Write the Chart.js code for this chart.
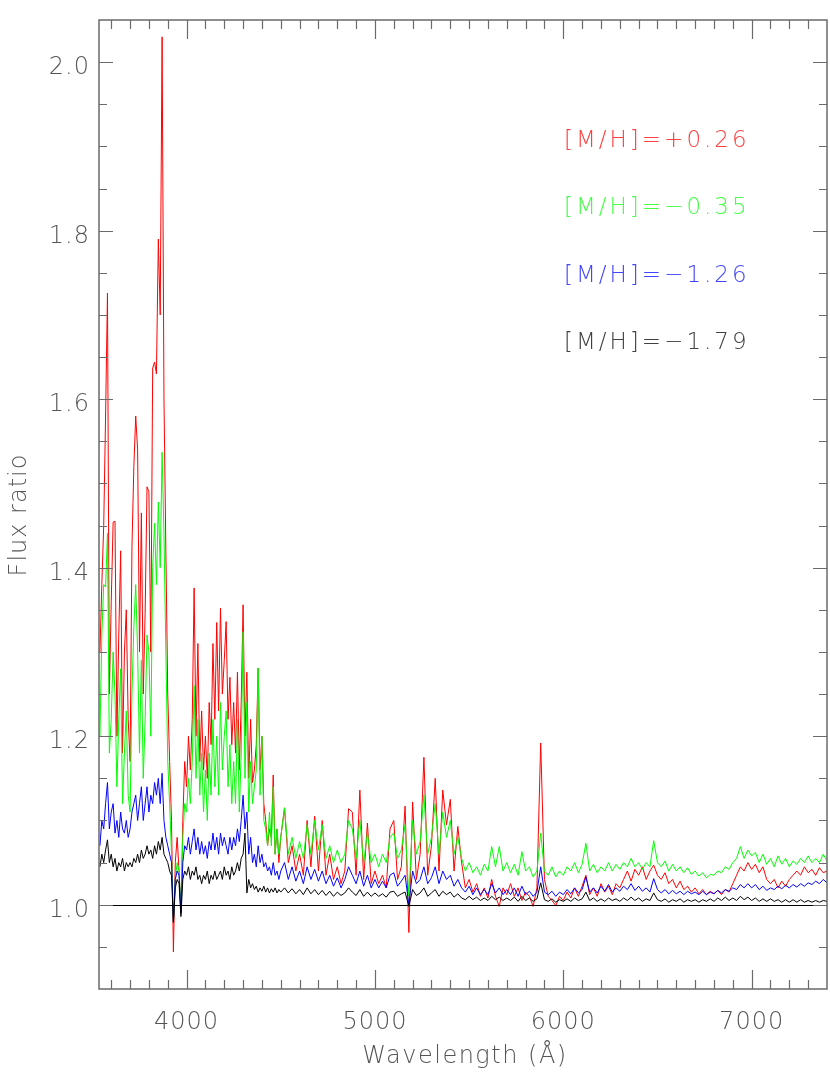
<!DOCTYPE html>
<html lang="en">
<head>
<meta charset="utf-8">
<title>Flux ratio vs wavelength</title>
<script src="https://cdn.jsdelivr.net/npm/chart.js@4"></script>
<style>
  html, body { margin: 0; padding: 0; background: #fff; }
  canvas { display: block; }
</style>
</head>
<body>
<canvas id="spectra" width="830" height="1076"></canvas>

<script>
// wavelength grid (Angstrom): 10 A steps in the blue, 20 A steps further red
const wavelength = [
  3540, 3550, 3560, 3570, 3580, 3590, 3600, 3610, 3620, 3630,
  3640, 3650, 3660, 3670, 3680, 3690, 3700, 3710, 3720, 3730,
  3740, 3750, 3760, 3770, 3780, 3790, 3800, 3810, 3820, 3830,
  3840, 3850, 3860, 3870, 3880, 3890, 3900, 3910, 3920, 3930,
  3940, 3950, 3960, 3970, 3980, 3990, 4000, 4010, 4020, 4030,
  4040, 4050, 4060, 4070, 4080, 4090, 4100, 4110, 4120, 4130,
  4140, 4150, 4160, 4170, 4180, 4190, 4200, 4210, 4220, 4230,
  4240, 4250, 4260, 4270, 4280, 4290, 4300, 4310, 4320, 4330,
  4340, 4350, 4360, 4370, 4380, 4390, 4400, 4410, 4420, 4430,
  4440, 4450, 4460, 4470, 4480, 4490, 4500,
  4520, 4540, 4560, 4580, 4600, 4620, 4640, 4660, 4680, 4700,
  4720, 4740, 4760, 4780, 4800, 4820, 4840, 4860, 4880, 4900,
  4920, 4940, 4960, 4980, 5000, 5020, 5040, 5060, 5080, 5100,
  5120, 5140, 5160, 5180, 5200, 5220, 5240, 5260, 5280, 5300,
  5320, 5340, 5360, 5380, 5400, 5420, 5440, 5460, 5480, 5500,
  5520, 5540, 5560, 5580, 5600, 5620, 5640, 5660, 5680, 5700,
  5720, 5740, 5760, 5780, 5800, 5820, 5840, 5860, 5880, 5900,
  5920, 5940, 5960, 5980, 6000, 6020, 6040, 6060, 6080, 6100,
  6120, 6140, 6160, 6180, 6200, 6220, 6240, 6260, 6280, 6300,
  6320, 6340, 6360, 6380, 6400, 6420, 6440, 6460, 6480, 6500,
  6520, 6540, 6560, 6580, 6600, 6620, 6640, 6660, 6680, 6700,
  6720, 6740, 6760, 6780, 6800, 6820, 6840, 6860, 6880, 6900,
  6920, 6940, 6960, 6980, 7000, 7020, 7040, 7060, 7080, 7100,
  7120, 7140, 7160, 7180, 7200, 7220, 7240, 7260, 7280, 7300,
  7320, 7340, 7360, 7380, 7400
];

// [M/H] = +0.26
const fluxMetalRich = [
  1.30, 1.38, 1.45, 1.58, 1.726, 1.25, 1.36, 1.454, 1.455, 1.20,
  1.32, 1.42, 1.18, 1.30, 1.35, 1.22, 1.17, 1.425, 1.52, 1.58,
  1.54, 1.30, 1.465, 1.25, 1.346, 1.496, 1.49, 1.30, 1.637, 1.644,
  1.63, 1.79, 1.70, 2.03, 1.60, 1.42, 1.25, 1.17, 1.10, 0.944,
  1.05, 1.08, 1.04, 0.99, 1.10, 1.17, 1.14, 1.20, 1.16, 1.22,
  1.376, 1.20, 1.31, 1.17, 1.23, 1.16, 1.20, 1.15, 1.24, 1.19,
  1.31, 1.22, 1.335, 1.23, 1.352, 1.25, 1.29, 1.336, 1.22, 1.27,
  1.19, 1.24, 1.18, 1.276, 1.16, 1.24, 1.356, 1.20, 1.276, 1.15,
  1.22, 1.145, 1.16, 1.19, 1.281, 1.16, 1.20, 1.12, 1.10, 1.07,
  1.09, 1.08, 1.154, 1.06, 1.09, 1.05, 1.08,
  1.115, 1.05, 1.07, 1.04, 1.06, 1.035, 1.10, 1.045, 1.105, 1.04,
  1.10, 1.035, 1.06, 1.03, 1.045, 1.025, 1.04, 1.114, 1.11, 1.035,
  1.136, 1.03, 1.097, 1.025, 1.04, 1.025, 1.035, 1.02, 1.09, 1.10,
  1.03, 1.045, 1.117, 0.967, 1.122, 1.03, 1.06, 1.175, 1.035, 1.07,
  1.15, 1.04, 1.136, 1.095, 1.125, 1.04, 1.093, 1.05, 1.02, 1.03,
  1.015, 1.025, 1.01, 1.02, 1.008, 1.03, 1.01, 0.998, 1.02, 1.012,
  1.025, 1.01, 1.02, 1.005, 1.015, 1.01, 0.998, 1.02, 1.192, 1.03,
  1.01, 1.005, 0.999, 1.01, 1.005, 1.015, 1.008, 1.02, 1.01, 1.022,
  1.035, 1.012, 1.02, 1.01, 1.025, 1.015, 1.022, 1.012, 1.025, 1.02,
  1.03, 1.04, 1.028, 1.042, 1.035, 1.045, 1.03, 1.04, 1.047, 1.035,
  1.03, 1.038, 1.025, 1.03, 1.02, 1.028, 1.018, 1.022, 1.015, 1.02,
  1.013, 1.018, 1.012, 1.016, 1.013, 1.017, 1.012, 1.018, 1.015, 1.025,
  1.035, 1.045, 1.04, 1.05, 1.042, 1.048, 1.038, 1.045, 1.03, 1.025,
  1.03, 1.02, 1.028, 1.022, 1.03, 1.035, 1.04, 1.035, 1.045, 1.038,
  1.042, 1.035, 1.044, 1.038, 1.04
];

// [M/H] = -0.35
const fluxSolarish = [
  1.20, 1.32, 1.38, 1.377, 1.441, 1.18, 1.22, 1.30, 1.25, 1.14,
  1.22, 1.28, 1.12, 1.18, 1.23, 1.13, 1.11, 1.25, 1.33, 1.38,
  1.30, 1.18, 1.29, 1.15, 1.22, 1.32, 1.30, 1.20, 1.40, 1.453,
  1.38, 1.478, 1.40, 1.537, 1.44, 1.30, 1.17, 1.12, 1.06, 0.979,
  1.03, 1.05, 1.04, 0.994, 1.08, 1.12, 1.11, 1.15, 1.12, 1.17,
  1.26, 1.15, 1.22, 1.13, 1.18, 1.11, 1.16, 1.10, 1.18, 1.13,
  1.22, 1.14, 1.20, 1.13, 1.24, 1.16, 1.20, 1.23, 1.14, 1.19,
  1.12, 1.17, 1.12, 1.22, 1.11, 1.18, 1.324, 1.15, 1.24, 1.11,
  1.17, 1.12, 1.14, 1.16, 1.281, 1.13, 1.20, 1.10, 1.09, 1.07,
  1.11, 1.07, 1.14, 1.06, 1.09, 1.06, 1.08,
  1.115, 1.06, 1.08, 1.055, 1.075, 1.055, 1.095, 1.06, 1.10, 1.065,
  1.095, 1.055, 1.07, 1.05, 1.065, 1.05, 1.06, 1.10, 1.09, 1.055,
  1.10, 1.05, 1.085, 1.05, 1.06, 1.045, 1.06, 1.05, 1.08, 1.085,
  1.055, 1.065, 1.095, 1.01, 1.10, 1.06, 1.075, 1.13, 1.06, 1.08,
  1.12, 1.06, 1.11, 1.08, 1.10, 1.06, 1.08, 1.055, 1.04, 1.05,
  1.038, 1.045, 1.035, 1.048, 1.04, 1.069, 1.045, 1.069, 1.04, 1.05,
  1.038, 1.048, 1.035, 1.063, 1.04, 1.045, 1.033, 1.04, 1.085, 1.04,
  1.035, 1.045, 1.033, 1.04, 1.035, 1.045, 1.04, 1.05, 1.038, 1.048,
  1.073, 1.04, 1.048, 1.038, 1.045, 1.04, 1.05, 1.04, 1.048, 1.042,
  1.05, 1.045, 1.055, 1.045, 1.05, 1.042, 1.05, 1.045, 1.076, 1.05,
  1.045, 1.052, 1.04, 1.048, 1.04, 1.045, 1.038, 1.044, 1.036, 1.04,
  1.034, 1.038, 1.032, 1.036, 1.035, 1.04, 1.038, 1.045, 1.042, 1.05,
  1.055, 1.069, 1.055, 1.065, 1.058, 1.062, 1.05, 1.06, 1.048, 1.055,
  1.045, 1.058, 1.048, 1.055, 1.045, 1.052, 1.048, 1.055, 1.05, 1.058,
  1.05, 1.055, 1.05, 1.06, 1.052
];

// [M/H] = -1.26
const fluxMetalPoor = [
  1.07, 1.10, 1.09, 1.12, 1.145, 1.09, 1.11, 1.12, 1.085, 1.10,
  1.08, 1.11, 1.09, 1.085, 1.10, 1.08, 1.09, 1.11, 1.12, 1.13,
  1.10, 1.12, 1.14, 1.10, 1.12, 1.14, 1.11, 1.13, 1.12, 1.145,
  1.13, 1.15, 1.12, 1.156, 1.10, 1.08, 1.07, 1.06, 1.05, 0.98,
  1.03, 1.04, 1.035, 0.99, 1.05, 1.07, 1.065, 1.08, 1.06, 1.075,
  1.09, 1.065, 1.08, 1.06, 1.075, 1.06, 1.07, 1.055, 1.075, 1.065,
  1.085, 1.065, 1.08, 1.06, 1.085, 1.07, 1.08, 1.07, 1.06, 1.08,
  1.065, 1.08, 1.07, 1.09, 1.075, 1.10, 1.13, 1.09, 1.11, 1.06,
  1.08, 1.05, 1.06, 1.045, 1.07, 1.05, 1.06, 1.045, 1.05, 1.04,
  1.045, 1.035, 1.05, 1.035, 1.04, 1.03, 1.04,
  1.05, 1.03, 1.045, 1.028, 1.04, 1.025, 1.045, 1.03, 1.042, 1.028,
  1.04, 1.025, 1.035, 1.022, 1.032, 1.02, 1.03, 1.045, 1.035, 1.025,
  1.04, 1.022, 1.035, 1.02, 1.03, 1.02, 1.028, 1.02, 1.035, 1.038,
  1.022, 1.028, 1.035, 1.0, 1.04, 1.025, 1.03, 1.045, 1.025, 1.032,
  1.045, 1.025, 1.04, 1.03, 1.035, 1.022, 1.03, 1.02, 1.015, 1.022,
  1.012, 1.02, 1.012, 1.018, 1.012, 1.025, 1.014, 1.02, 1.012, 1.018,
  1.012, 1.02, 1.01, 1.022, 1.012, 1.016, 1.01, 1.015, 1.045, 1.015,
  1.012, 1.016, 1.01, 1.015, 1.012, 1.018, 1.013, 1.02, 1.014, 1.018,
  1.033, 1.015, 1.02, 1.014, 1.022, 1.016, 1.024, 1.015, 1.02, 1.016,
  1.022, 1.018, 1.025, 1.017, 1.022, 1.016, 1.02, 1.015, 1.031, 1.018,
  1.014, 1.018, 1.013, 1.017, 1.013, 1.016, 1.012, 1.016, 1.013, 1.015,
  1.012, 1.016, 1.012, 1.015, 1.013, 1.017, 1.014, 1.018, 1.016, 1.02,
  1.018, 1.024, 1.02, 1.025, 1.02, 1.024, 1.018, 1.022, 1.017, 1.02,
  1.018, 1.022, 1.019, 1.023, 1.02, 1.024, 1.021, 1.025, 1.022, 1.026,
  1.024, 1.028, 1.025, 1.03, 1.026
];

// [M/H] = -1.79
const fluxVeryPoor = [
  1.045, 1.06, 1.05, 1.065, 1.077, 1.05, 1.06, 1.045, 1.055, 1.04,
  1.05, 1.045, 1.055, 1.04, 1.05, 1.045, 1.05, 1.045, 1.055, 1.05,
  1.06, 1.05, 1.065, 1.055, 1.06, 1.07, 1.06, 1.065, 1.055, 1.07,
  1.06, 1.075, 1.065, 1.08, 1.06, 1.055, 1.05, 1.04, 1.035, 0.979,
  1.02, 1.03, 1.025, 0.986, 1.03, 1.04, 1.035, 1.045, 1.03, 1.04,
  1.035, 1.045, 1.03, 1.035, 1.025, 1.035, 1.03, 1.04, 1.025, 1.035,
  1.03, 1.04, 1.03, 1.035, 1.04, 1.03, 1.045, 1.035, 1.04, 1.03,
  1.045, 1.035, 1.04, 1.05, 1.04, 1.055, 1.06, 1.085, 1.014, 1.03,
  1.02, 1.025, 1.018, 1.022, 1.015, 1.02, 1.016, 1.022, 1.015, 1.02,
  1.014, 1.019, 1.015, 1.02, 1.014, 1.018, 1.015,
  1.02, 1.014, 1.019, 1.013, 1.018, 1.012, 1.02, 1.013, 1.018, 1.012,
  1.017, 1.011, 1.016, 1.01, 1.015, 1.011, 1.014, 1.02, 1.015, 1.011,
  1.018, 1.01, 1.015, 1.01, 1.014, 1.01, 1.013, 1.009, 1.015, 1.016,
  1.01, 1.013, 1.015, 0.998, 1.018, 1.011, 1.014, 1.02, 1.01, 1.014,
  1.018, 1.01, 1.016, 1.012, 1.015, 1.009, 1.013, 1.008, 1.006, 1.01,
  1.006, 1.009, 1.005, 1.008, 1.005, 1.01, 1.006, 1.009, 1.005, 1.008,
  1.005, 1.009, 1.004, 1.01, 1.005, 1.008, 1.004, 1.007, 1.026, 1.006,
  1.004, 1.007, 1.003, 1.006, 1.004, 1.007, 1.004, 1.008, 1.005, 1.007,
  1.015, 1.005, 1.008, 1.004, 1.007, 1.004, 1.008, 1.005, 1.007, 1.004,
  1.008, 1.005, 1.009, 1.005, 1.008, 1.004, 1.007, 1.005, 1.014, 1.006,
  1.004, 1.007, 1.003, 1.006, 1.004, 1.007, 1.003, 1.006, 1.004, 1.006,
  1.003, 1.006, 1.004, 1.007, 1.004, 1.008, 1.005, 1.009, 1.005, 1.008,
  1.005, 1.01, 1.006, 1.009, 1.005, 1.008, 1.004, 1.007, 1.004, 1.007,
  1.004, 1.006, 1.003, 1.006, 1.003, 1.006, 1.003, 1.006, 1.003, 1.005,
  1.003, 1.005, 1.003, 1.005, 1.004
];

const seriesLabels = ['[M/H]=+0.26', '[M/H]=\u22120.35', '[M/H]=\u22121.26', '[M/H]=\u22121.79'];
const xTickLabels = [4000, 5000, 6000, 7000];
const yTickLabels = [1.0, 1.2, 1.4, 1.6, 1.8, 2.0];

const lineColors = ['#ff0000', '#00ff00', '#0000ff', '#000000'];
const textColors = ['#ff4040', '#44ff44', '#4444ff', '#404040'];

function toPoints(values) {
  const n = Math.min(values.length, wavelength.length);
  const pts = [];
  for (let i = 0; i < n; i++) pts.push({x: wavelength[i], y: values[i]});
  return pts;
}

const FONT = '"DejaVu Sans", "Liberation Sans", sans-serif';

// IDL-like frame: inward ticks on all four sides, labels, unity line, legend text
const idlFrame = {
  id: 'idlFrame',
  afterDatasetsDraw(chart) {
    const {ctx, chartArea: a, scales} = chart;
    const xs = scales.x, ys = scales.y;
    ctx.save();

    // unity line
    const y1 = Math.round(ys.getPixelForValue(1.0)) + 0.5;
    ctx.strokeStyle = '#000';
    ctx.lineWidth = 1;
    ctx.beginPath();
    ctx.moveTo(a.left, y1);
    ctx.lineTo(a.right, y1);
    ctx.stroke();

    // box
    ctx.strokeStyle = '#6a6a6a';
    ctx.lineWidth = 1.5;
    ctx.strokeRect(a.left, a.top, a.right - a.left, a.bottom - a.top);

    ctx.lineWidth = 1.2;
    ctx.beginPath();
    // x ticks every 100 A, major every 1000 A
    for (let w = 3600; w <= 7400; w += 100) {
      const px = Math.round(xs.getPixelForValue(w)) + 0.5;
      if (px <= a.left + 1 || px >= a.right - 1) continue;
      const len = (w % 1000 === 0) ? 19 : 9;
      ctx.moveTo(px, a.bottom); ctx.lineTo(px, a.bottom - len);
      ctx.moveTo(px, a.top); ctx.lineTo(px, a.top + len);
    }
    // y ticks every 0.05, major every 0.2 from 1.0
    for (let k = 19; k <= 41; k++) {
      const v = k * 0.05;
      const py = Math.round(ys.getPixelForValue(v)) + 0.5;
      if (py <= a.top + 1 || py >= a.bottom - 1) continue;
      const major = (k >= 20) && ((k - 20) % 4 === 0);
      const len = major ? 14 : 8;
      ctx.moveTo(a.left, py); ctx.lineTo(a.left + len, py);
      ctx.moveTo(a.right, py); ctx.lineTo(a.right - len, py);
    }
    ctx.stroke();

    // tick labels
    ctx.fillStyle = '#555';
    ctx.font = '200 24px ' + FONT;
    ctx.letterSpacing = '1px';
    ctx.textBaseline = 'alphabetic';
    ctx.textAlign = 'center';
    xTickLabels.forEach(w => {
      ctx.fillText(String(w), xs.getPixelForValue(w), a.bottom + 40);
    });
    ctx.textAlign = 'right';
    yTickLabels.forEach(v => {
      ctx.fillText(v.toFixed(1), a.left - 9, ys.getPixelForValue(v) + 12);
    });

    // axis titles
    ctx.letterSpacing = '1.5px';
    ctx.textAlign = 'center';
    ctx.fillText('Wavelength (\u00c5)', (a.left + a.right) / 2 + 2, a.bottom + 74);
    ctx.save();
    ctx.translate(26, 515);
    ctx.rotate(-Math.PI / 2);
    ctx.letterSpacing = '1px';
    ctx.fillText('Flux ratio', 0, 0);
    ctx.restore();

    // legend labels
    ctx.font = '200 23px ' + FONT;
    ctx.letterSpacing = '3px';
    ctx.textAlign = 'left';
    const baselines = [147, 214, 282, 349];
    seriesLabels.forEach((s, i) => {
      ctx.fillStyle = textColors[i];
      ctx.fillText(s, 564, baselines[i]);
    });

    ctx.restore();
  }
};

const datasets = [fluxMetalRich, fluxSolarish, fluxMetalPoor, fluxVeryPoor].map((vals, i) => ({
  label: seriesLabels[i],
  data: toPoints(vals),
  borderColor: lineColors[i],
  borderWidth: 1,
  pointRadius: 0,
  tension: 0,
  fill: false,
  order: 4 - i   // red drawn first, black on top
}));

new Chart(document.getElementById('spectra'), {
  type: 'line',
  data: {datasets: datasets},
  options: {
    responsive: false,
    animation: false,
    layout: {padding: {left: 99, right: 3, top: 20, bottom: 87}},
    plugins: {legend: {display: false}, tooltip: {enabled: false}},
    scales: {
      x: {type: 'linear', min: 3535, max: 7400, display: false},
      y: {type: 'linear', min: 0.9, max: 2.05, display: false}
    }
  },
  plugins: [idlFrame]
});
</script>
</body>
</html>
